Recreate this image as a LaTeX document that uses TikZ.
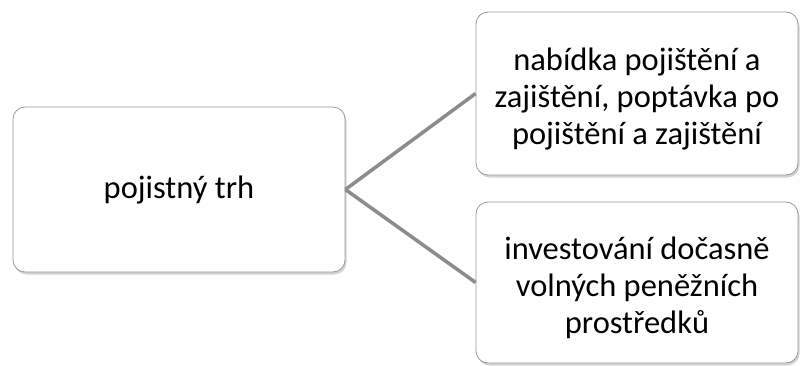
\documentclass[tikz,border=0pt]{standalone}
\usepackage{fontspec}
\setmainfont{Carlito}
\usetikzlibrary{shadows}
\newcommand{\topgap}{\rule{0pt}{34pt}}
\begin{document}
\begin{tikzpicture}[x=1pt,y=1pt,
  box/.style={draw=black!40, line width=0.8pt, fill=white, rounded corners=12pt,
    drop shadow={shadow xshift=1.5pt, shadow yshift=-2.5pt, opacity=0.35},
    align=center, inner sep=0pt, font=\fontsize{32.5}{37}\selectfont},
  link/.style={draw=black!45, line width=3.5pt}]
\useasboundingbox (0,0) rectangle (800,365);
\node[box, minimum width=332pt, minimum height=165pt] (m) at (179,175.5) {pojistný trh};
\node[box, minimum width=322pt, minimum height=163pt] (a) at (637,271.5)
  {\topgap nabídka pojištění a\\zajištění, poptávka po\\pojištění a zajištění};
\node[box, minimum width=322pt, minimum height=161pt] (b) at (637,82.5)
  {\topgap investování dočasně\\volných peněžních\\prostředků};
\draw[link] (m.east) -- (a.west);
\draw[link] (m.east) -- (b.west);
\end{tikzpicture}
\end{document}
